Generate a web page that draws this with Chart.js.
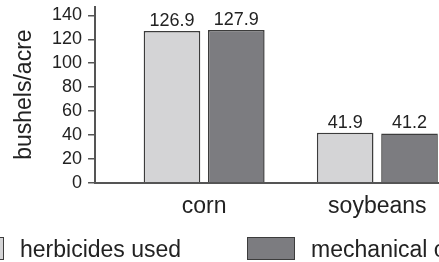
<!DOCTYPE html>
<html>
<head>
<meta charset="utf-8">
<script src="https://cdn.jsdelivr.net/npm/chart.js"></script>
<style>
  body { margin: 0; background: #fff; }
  #wrap { position: relative; width: 439px; height: 262px; overflow: hidden; }
  #legend {
    position: absolute; left: -44px; top: 236.5px;
    display: flex; gap: 66px; white-space: nowrap;
    font: 23px "Liberation Sans", Arial, sans-serif; color: #222;
  }
  #legend .item { display: flex; align-items: center; height: 23px; }
  #legend .swatch { width: 48px; height: 23px; box-sizing: border-box; border: 1.5px solid; margin-right: 16px; }
  #legend .txt { position: relative; top: 1px; }
</style>
</head>
<body>
<div id="wrap">
  <canvas id="myChart" width="439" height="262"></canvas>
  <div id="legend"></div>
</div>
<script>
var cropNames = ['corn', 'soybeans'];
var seriesNames = ['herbicides used', 'mechanical cultivation'];
var herbicideYield = [126.9, 41.9];
var mechanicalYield = [127.9, 41.2];
var yTickValues = [0, 20, 40, 60, 80, 100, 120, 140];

var textColor = '#222';
var axisColor = '#555';
Chart.defaults.font.family = '"Liberation Sans", Arial, sans-serif';
Chart.defaults.color = textColor;

function toPoints(values) {
  return values.map(function (v, i) { return { x: i, y: v }; });
}

// value labels above each bar
var barValues = {
  id: 'barValues',
  afterDatasetsDraw: function (chart) {
    var ctx = chart.ctx;
    ctx.save();
    ctx.font = '18px "Liberation Sans", Arial, sans-serif';
    ctx.fillStyle = textColor;
    ctx.textAlign = 'center';
    ctx.textBaseline = 'alphabetic';
    chart.data.datasets.forEach(function (ds, i) {
      chart.getDatasetMeta(i).data.forEach(function (bar, j) {
        ctx.fillText(ds.data[j].y.toFixed(1), bar.x, bar.y - 5);
      });
    });
    ctx.restore();
  }
};

// legend built as html so it can run off the edges like the original
var htmlLegend = {
  id: 'htmlLegend',
  afterUpdate: function (chart) {
    var box = document.getElementById('legend');
    box.innerHTML = '';
    var items = chart.options.plugins.legend.labels.generateLabels(chart);
    items.forEach(function (item) {
      var li = document.createElement('div');
      li.className = 'item';
      var sw = document.createElement('span');
      sw.className = 'swatch';
      sw.style.background = item.fillStyle;
      sw.style.borderColor = item.strokeStyle;
      var tx = document.createElement('span');
      tx.className = 'txt';
      tx.textContent = item.text;
      li.appendChild(sw);
      li.appendChild(tx);
      box.appendChild(li);
    });
  }
};

var ctx = document.getElementById('myChart').getContext('2d');
var myChart = new Chart(ctx, {
  type: 'bar',
  data: {
    datasets: [
      {
        label: seriesNames[0],
        data: toPoints(herbicideYield),
        backgroundColor: '#d4d4d6',
        borderColor: '#3c3c3c',
        borderWidth: 1.5
      },
      {
        label: seriesNames[1],
        data: toPoints(mechanicalYield),
        backgroundColor: '#7c7c80',
        borderColor: '#3c3c3c',
        borderWidth: 1.5
      }
    ]
  },
  options: {
    responsive: false,
    animation: false,
    categoryPercentage: 0.743,
    barPercentage: 0.88,
    layout: { padding: { left: 0, right: 0, top: 6.5, bottom: 31.7 } },
    plugins: {
      legend: { display: false },
      tooltip: { enabled: false }
    },
    scales: {
      x: {
        type: 'linear',
        min: -0.63,
        max: 1.356,
        offset: false,
        z: 1,
        grid: { display: false, drawTicks: false, offset: false },
        border: { display: true, color: axisColor, width: 2 },
        afterBuildTicks: function (scale) {
          scale.ticks = cropNames.map(function (_, i) { return { value: i }; });
        },
        ticks: {
          padding: 10,
          autoSkip: false,
          maxRotation: 0,
          font: { size: 23 },
          color: textColor,
          callback: function (value) { return cropNames[value]; }
        }
      },
      y: {
        min: 0,
        max: 147.5,
        afterBuildTicks: function (scale) {
          scale.ticks = yTickValues.map(function (v) { return { value: v }; });
        },
        afterFit: function (scale) {
          scale.paddingTop = 0;
          scale.paddingBottom = 0;
        },
        grid: {
          drawOnChartArea: false,
          drawTicks: true,
          tickLength: 7,
          color: axisColor,
          lineWidth: 1.5
        },
        border: { display: true, color: axisColor, width: 2 },
        ticks: {
          padding: 6,
          autoSkip: false,
          font: { size: 18 },
          color: textColor
        },
        title: {
          display: true,
          text: 'bushels/acre',
          font: { size: 23 },
          color: textColor,
          padding: { top: 10.5, bottom: 7.9 }
        }
      }
    }
  },
  plugins: [barValues, htmlLegend]
});
</script>
</body>
</html>
